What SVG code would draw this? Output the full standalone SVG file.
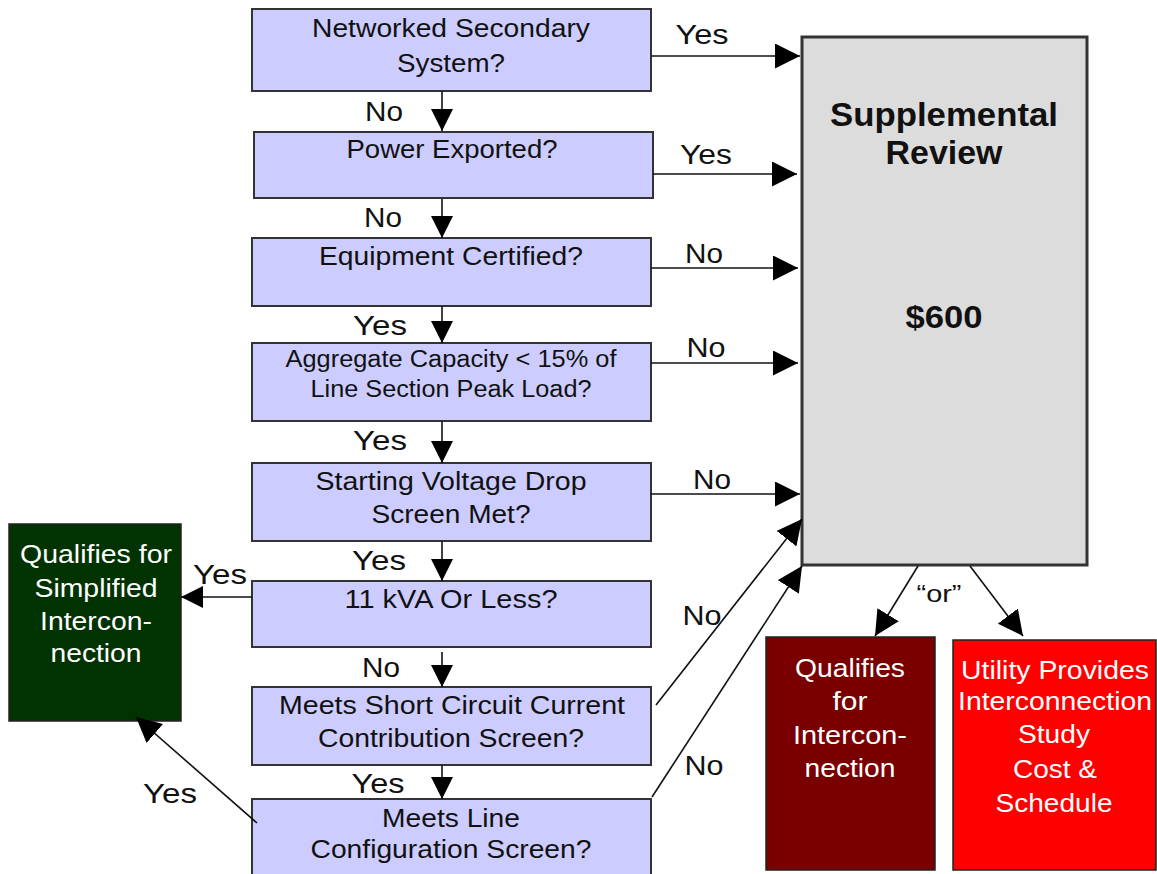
<svg xmlns="http://www.w3.org/2000/svg" width="1157" height="874" viewBox="0 0 1157 874">
  <defs>
    <style>
      .q{fill:#ccccff;stroke:#333;stroke-width:2}
      .t{font-family:"Liberation Sans",Arial,sans-serif;font-size:25px;fill:#111;text-anchor:middle}
      .l{font-size:28px}
      .w{fill:#fff}
      .b{font-weight:bold;font-size:34px}
      .c{stroke:#111;stroke-width:1.6;fill:none}
      .h{marker-end:url(#ah)}
      .v{marker-end:url(#av)}
    </style>
    <marker id="ah" markerUnits="userSpaceOnUse" markerWidth="25" markerHeight="25" viewBox="0 0 25 25" refX="25" refY="12.5" orient="auto">
      <path d="M0,0 L25,12.5 L0,25 z" fill="#000"/>
    </marker>
    <marker id="av" markerUnits="userSpaceOnUse" markerWidth="22" markerHeight="22" viewBox="0 0 22 22" refX="22" refY="11" orient="auto">
      <path d="M0,0 L22,11 L0,22 z" fill="#000"/>
    </marker>
  </defs>
  <rect width="1157" height="874" fill="#fff"/>

  <!-- decision boxes -->
  <g id="networked">
    <rect class="q" x="252" y="9" width="399" height="82"/>
    <text class="t" x="451" y="37" textLength="278" lengthAdjust="spacingAndGlyphs">Networked Secondary</text>
    <text class="t" x="451" y="72" textLength="108" lengthAdjust="spacingAndGlyphs">System?</text>
  </g>
  <g id="exported">
    <rect class="q" x="254" y="132" width="399" height="66"/>
    <text class="t" x="452" y="158" textLength="211" lengthAdjust="spacingAndGlyphs">Power Exported?</text>
  </g>
  <g id="certified">
    <rect class="q" x="252" y="238" width="399" height="68"/>
    <text class="t" x="451" y="265" textLength="264" lengthAdjust="spacingAndGlyphs">Equipment Certified?</text>
  </g>
  <g id="capacity">
    <rect class="q" x="252" y="343" width="399" height="78"/>
    <text class="t" x="451" y="367" style="font-size:23px" textLength="331" lengthAdjust="spacingAndGlyphs">Aggregate Capacity &lt; 15% of</text>
    <text class="t" x="451" y="397" style="font-size:23px" textLength="281" lengthAdjust="spacingAndGlyphs">Line Section Peak Load?</text>
  </g>
  <g id="voltage">
    <rect class="q" x="252" y="463" width="399" height="78"/>
    <text class="t" x="451" y="490" textLength="271" lengthAdjust="spacingAndGlyphs">Starting Voltage Drop</text>
    <text class="t" x="451" y="523" textLength="159" lengthAdjust="spacingAndGlyphs">Screen Met?</text>
  </g>
  <g id="kva">
    <rect class="q" x="252" y="581" width="399" height="66"/>
    <text class="t" x="451" y="608" textLength="213" lengthAdjust="spacingAndGlyphs">11 kVA Or Less?</text>
  </g>
  <g id="shortcircuit">
    <rect class="q" x="252" y="687" width="399" height="78"/>
    <text class="t" x="452" y="714" textLength="346" lengthAdjust="spacingAndGlyphs">Meets Short Circuit Current</text>
    <text class="t" x="451" y="747" textLength="266" lengthAdjust="spacingAndGlyphs">Contribution Screen?</text>
  </g>
  <g id="lineconfig">
    <rect class="q" x="252" y="799" width="399" height="80"/>
    <text class="t" x="451" y="827" textLength="138" lengthAdjust="spacingAndGlyphs">Meets Line</text>
    <text class="t" x="451" y="858" textLength="281" lengthAdjust="spacingAndGlyphs">Configuration Screen?</text>
  </g>

  <!-- outcome boxes -->
  <g id="supplemental">
    <rect x="802" y="37" width="285" height="528" fill="#dcdcdc" stroke="#333" stroke-width="3"/>
    <text class="t b" x="944" y="126" textLength="228" lengthAdjust="spacingAndGlyphs">Supplemental</text>
    <text class="t b" x="944" y="164" textLength="117" lengthAdjust="spacingAndGlyphs">Review</text>
    <text class="t b" x="944" y="328" style="font-size:32px" textLength="77" lengthAdjust="spacingAndGlyphs">$600</text>
  </g>
  <g id="simplified">
    <rect x="9" y="524" width="172" height="197" fill="#003300" stroke="#222" stroke-width="1.5"/>
    <text class="t w" x="96" y="563" textLength="152" lengthAdjust="spacingAndGlyphs">Qualifies for</text>
    <text class="t w" x="96" y="597" textLength="123" lengthAdjust="spacingAndGlyphs">Simplified</text>
    <text class="t w" x="96" y="630" textLength="112" lengthAdjust="spacingAndGlyphs">Intercon-</text>
    <text class="t w" x="96" y="662" textLength="91" lengthAdjust="spacingAndGlyphs">nection</text>
  </g>
  <g id="qualifies">
    <rect x="766" y="637" width="169" height="233" fill="#7a0000" stroke="#222" stroke-width="1.5"/>
    <text class="t w" x="850" y="677" textLength="110" lengthAdjust="spacingAndGlyphs">Qualifies</text>
    <text class="t w" x="850" y="710" textLength="35" lengthAdjust="spacingAndGlyphs">for</text>
    <text class="t w" x="850" y="744" textLength="114" lengthAdjust="spacingAndGlyphs">Intercon-</text>
    <text class="t w" x="850" y="777" textLength="91" lengthAdjust="spacingAndGlyphs">nection</text>
  </g>
  <g id="study">
    <rect x="953" y="640" width="203" height="230" fill="#ff0000" stroke="#222" stroke-width="1.5"/>
    <text class="t w" x="1055" y="679" textLength="188" lengthAdjust="spacingAndGlyphs">Utility Provides</text>
    <text class="t w" x="1055" y="710" textLength="194" lengthAdjust="spacingAndGlyphs">Interconnection</text>
    <text class="t w" x="1054" y="743" textLength="72" lengthAdjust="spacingAndGlyphs">Study</text>
    <text class="t w" x="1055" y="778" textLength="84" lengthAdjust="spacingAndGlyphs">Cost &amp;</text>
    <text class="t w" x="1054" y="812" textLength="117" lengthAdjust="spacingAndGlyphs">Schedule</text>
  </g>

  <!-- connectors -->
  <g id="connectors">
    <path class="c v" d="M442,91 V131"/>
    <path class="c v" d="M442,199 V238"/>
    <path class="c v" d="M442,306 V343"/>
    <path class="c v" d="M442,421 V463"/>
    <path class="c v" d="M442,541 V581"/>
    <path class="c v" d="M442,652 V687"/>
    <path class="c v" d="M442,765 V799"/>

    <path class="c h" d="M651,56 H800"/>
    <path class="c h" d="M653,174 H797"/>
    <path class="c h" d="M651,268 H798"/>
    <path class="c h" d="M651,363 H798"/>
    <path class="c h" d="M651,494 H800"/>
    <path class="c h" d="M656,705 L802,519"/>
    <path class="c h" d="M652,797 L802,566"/>

    <path class="c v" d="M252,597 H181"/>
    <path class="c h" d="M257,823 L136,717"/>

    <path class="c h" d="M918,566 L875,636"/>
    <path class="c h" d="M970,566 L1023,636"/>

    <!-- branch labels -->
    <text class="t l" x="384" y="121" textLength="38" lengthAdjust="spacingAndGlyphs">No</text>
    <text class="t l" x="383" y="227" textLength="38" lengthAdjust="spacingAndGlyphs">No</text>
    <text class="t l" x="380" y="335" textLength="54" lengthAdjust="spacingAndGlyphs">Yes</text>
    <text class="t l" x="380" y="450" textLength="54" lengthAdjust="spacingAndGlyphs">Yes</text>
    <text class="t l" x="379" y="570" textLength="54" lengthAdjust="spacingAndGlyphs">Yes</text>
    <text class="t l" x="381" y="677" textLength="38" lengthAdjust="spacingAndGlyphs">No</text>
    <text class="t l" x="378" y="793" textLength="53" lengthAdjust="spacingAndGlyphs">Yes</text>

    <text class="t l" x="702" y="44" textLength="53" lengthAdjust="spacingAndGlyphs">Yes</text>
    <text class="t l" x="706" y="164" textLength="52" lengthAdjust="spacingAndGlyphs">Yes</text>
    <text class="t l" x="704" y="263" textLength="38" lengthAdjust="spacingAndGlyphs">No</text>
    <text class="t l" x="706" y="357" textLength="39" lengthAdjust="spacingAndGlyphs">No</text>
    <text class="t l" x="712" y="489" textLength="38" lengthAdjust="spacingAndGlyphs">No</text>
    <text class="t l" x="702" y="625" textLength="39" lengthAdjust="spacingAndGlyphs">No</text>
    <text class="t l" x="704" y="775" textLength="39" lengthAdjust="spacingAndGlyphs">No</text>

    <text class="t l" x="220" y="584" textLength="54" lengthAdjust="spacingAndGlyphs">Yes</text>
    <text class="t l" x="170" y="803" textLength="54" lengthAdjust="spacingAndGlyphs">Yes</text>

    <text class="t" x="939" y="602" style="font-size:24px" textLength="45" lengthAdjust="spacingAndGlyphs">“or”</text>
  </g>
</svg>
